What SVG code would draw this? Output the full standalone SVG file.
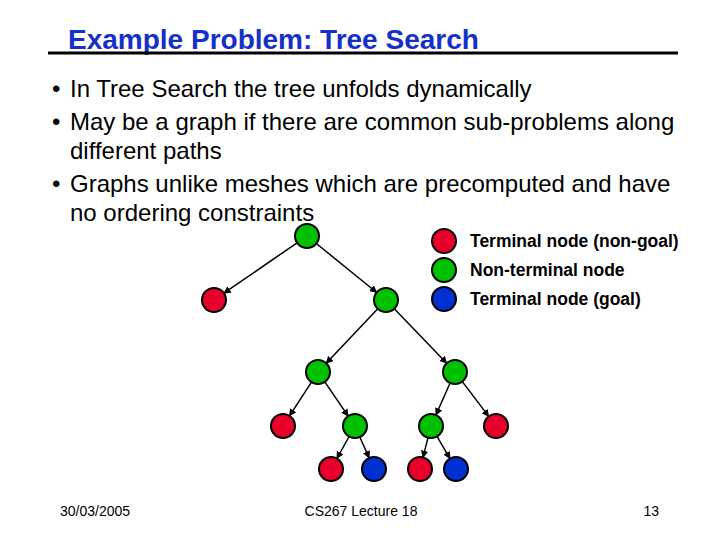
<svg xmlns="http://www.w3.org/2000/svg" width="720" height="540" viewBox="0 0 720 540">
<style>
text{font-family:"Liberation Sans",Arial,sans-serif;fill:#000}
.b{font-size:24px}
.l{font-size:17.5px;font-weight:bold}
.f{font-size:14px}
circle{stroke:#000;stroke-width:2}
.r{fill:#e8002a}.g{fill:#00c000}.u{fill:#0030d0}
#edges line{stroke:#000;stroke-width:1.5;marker-end:url(#ah)}
</style>
<defs><marker id="ah" viewBox="0 0 10 10" refX="9" refY="5" markerWidth="5" markerHeight="5" orient="auto" markerUnits="strokeWidth"><path d="M0,0L10,5L0,10z" fill="#000"/></marker></defs>
<rect width="720" height="540" fill="#fff"/>
<text x="68" y="49" style="font-size:28px;font-weight:bold;fill:#1530c8">Example Problem: Tree Search</text>
<line x1="48" y1="53" x2="678" y2="53" stroke="#000" stroke-width="3"/>
<text class="b" x="52" y="97">•</text><text class="b" x="70" y="97">In Tree Search the tree unfolds dynamically</text>
<text class="b" x="52" y="130">•</text><text class="b" x="70" y="130">May be a graph if there are common sub-problems along</text>
<text class="b" x="70" y="159">different paths</text>
<text class="b" x="52" y="192">•</text><text class="b" x="70" y="192">Graphs unlike meshes which are precomputed and have</text>
<text class="b" x="70" y="221">no ordering constraints</text>
<g id="edges">
<line x1="297.1" y1="242.8" x2="223.9" y2="293.2"/>
<line x1="316.3" y1="243.5" x2="376.7" y2="292.5"/>
<line x1="377.8" y1="308.7" x2="326.2" y2="363.3"/>
<line x1="394.3" y1="308.7" x2="446.7" y2="363.3"/>
<line x1="311.5" y1="382.1" x2="289.5" y2="415.9"/>
<line x1="324.8" y1="381.9" x2="348.2" y2="416.1"/>
<line x1="450.1" y1="383" x2="435.9" y2="415"/>
<line x1="462.3" y1="381.6" x2="488.7" y2="416.4"/>
<line x1="349.1" y1="436.5" x2="336.9" y2="458.5"/>
<line x1="359.8" y1="437" x2="369.2" y2="458"/>
<line x1="428" y1="437.6" x2="423" y2="457.4"/>
<line x1="437" y1="436.4" x2="450" y2="458.6"/>
</g>
<g id="n0"><circle class="g" cx="307" cy="236" r="12"/></g>
<g id="n1"><circle class="r" cx="214" cy="300" r="12"/></g>
<g id="n2"><circle class="g" cx="386" cy="300" r="12"/></g>
<g id="n3"><circle class="g" cx="318" cy="372" r="12"/></g>
<g id="n4"><circle class="g" cx="455" cy="372" r="12"/></g>
<g id="n5"><circle class="r" cx="283" cy="426" r="12"/></g>
<g id="n6"><circle class="g" cx="355" cy="426" r="12"/></g>
<g id="n7"><circle class="g" cx="431" cy="426" r="12"/></g>
<g id="n8"><circle class="r" cx="496" cy="426" r="12"/></g>
<g id="n9"><circle class="r" cx="331" cy="469" r="12"/></g>
<g id="n10"><circle class="u" cx="374" cy="469" r="12"/></g>
<g id="n11"><circle class="r" cx="420" cy="469" r="12"/></g>
<g id="n12"><circle class="u" cx="456" cy="469" r="12"/></g>
<g id="legend">
<circle class="r" cx="444" cy="241" r="12"/><text class="l" x="470" y="247">Terminal node (non-goal)</text>
<circle class="g" cx="444" cy="270" r="12"/><text class="l" x="470" y="276">Non-terminal node</text>
<circle class="u" cx="444" cy="299" r="12"/><text class="l" x="470" y="305">Terminal node (goal)</text>
</g>
<text class="f" x="60" y="516">30/03/2005</text>
<text class="f" x="361" y="516" text-anchor="middle">CS267 Lecture 18</text>
<text class="f" x="659" y="516" text-anchor="end">13</text>
</svg>
